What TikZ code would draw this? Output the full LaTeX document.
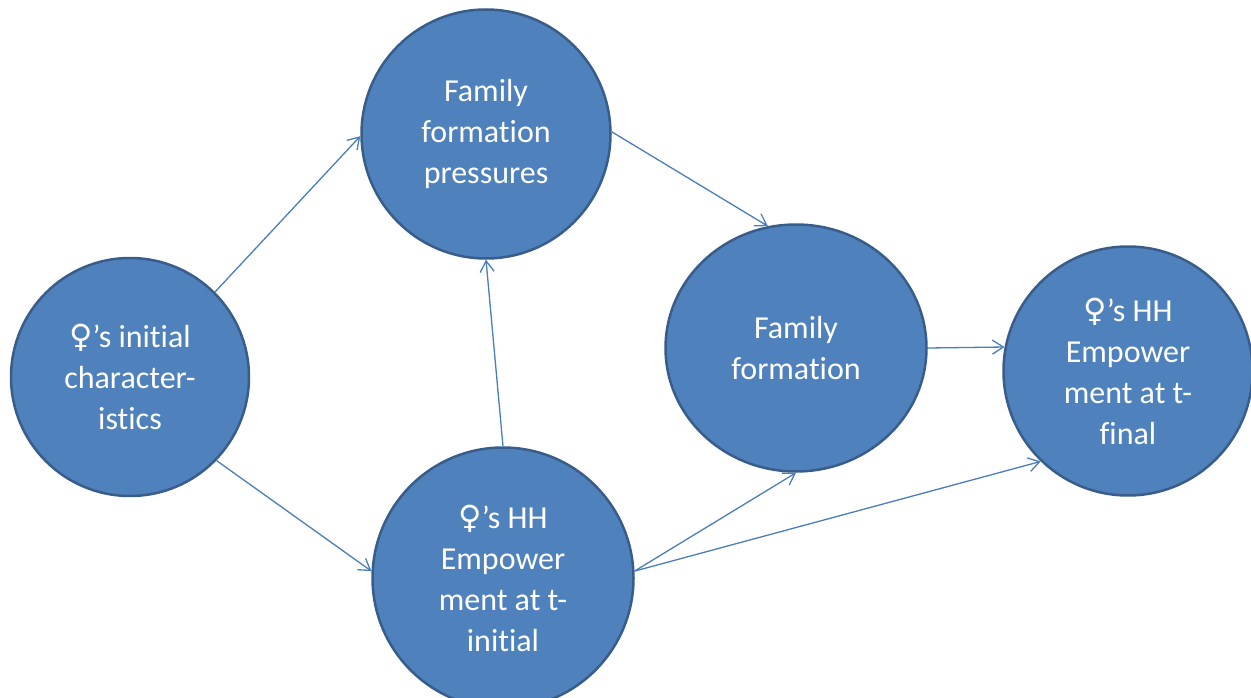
\documentclass[tikz,border=0pt]{standalone}
\usepackage{fontspec}
\setmainfont{Carlito}[Ligatures=NoCommon]
\newfontfamily\symfont{DejaVu Sans}
\usetikzlibrary{arrows.meta,shapes.geometric}
\definecolor{nodefill}{HTML}{4F81BD}
\definecolor{nodeedge}{HTML}{385D8A}
\definecolor{arrowc}{HTML}{4A7EBB}
\newcommand{\fem}{{\symfont ♀}}
\begin{document}
\begin{tikzpicture}[x=1pt,y=-1pt,
  bubble/.style={circle,fill=nodefill,draw=nodeedge,line width=2.5pt,text=white,
    align=center,inner sep=0pt,font=\fontsize{32}{41}\selectfont},
  link/.style={draw=arrowc,line width=1.3pt,-{Straight Barb[length=11pt,width=14pt]}}]
\useasboundingbox (0,0) rectangle (1251,698);
\node[bubble,minimum size=238pt] (c1) at (130,377) {\fem’s initial\\character-\\istics};
\node[bubble,minimum size=249pt] (c2) at (486,134) {Family\\formation\\pressures};
\node[bubble,minimum size=261pt] (c3) at (503,578) {\fem’s HH\\Empower\\ment at t-\\initial};
\node[bubble,ellipse,minimum width=261pt,minimum height=247pt] (c4) at (796,348) {Family\\formation};
\node[bubble,minimum size=249pt] (c5) at (1128,371) {\fem’s HH\\Empower\\ment at t-\\final};
\draw[link] (c1.45) -- (c2.181);
\draw[link] (c1.-44) -- (c3.177);
\draw[link] (c3.north) -- (c2.south);
\draw[link] (c2.1) -- (c4.103);
\draw[link] (c4.east) -- (c5.169);
\coordinate (c3out) at (c3.3);
\draw[link] (c3out) -- (c4.south);
\draw[link] (c3out) -- (c5.-134);
\end{tikzpicture}
\end{document}
